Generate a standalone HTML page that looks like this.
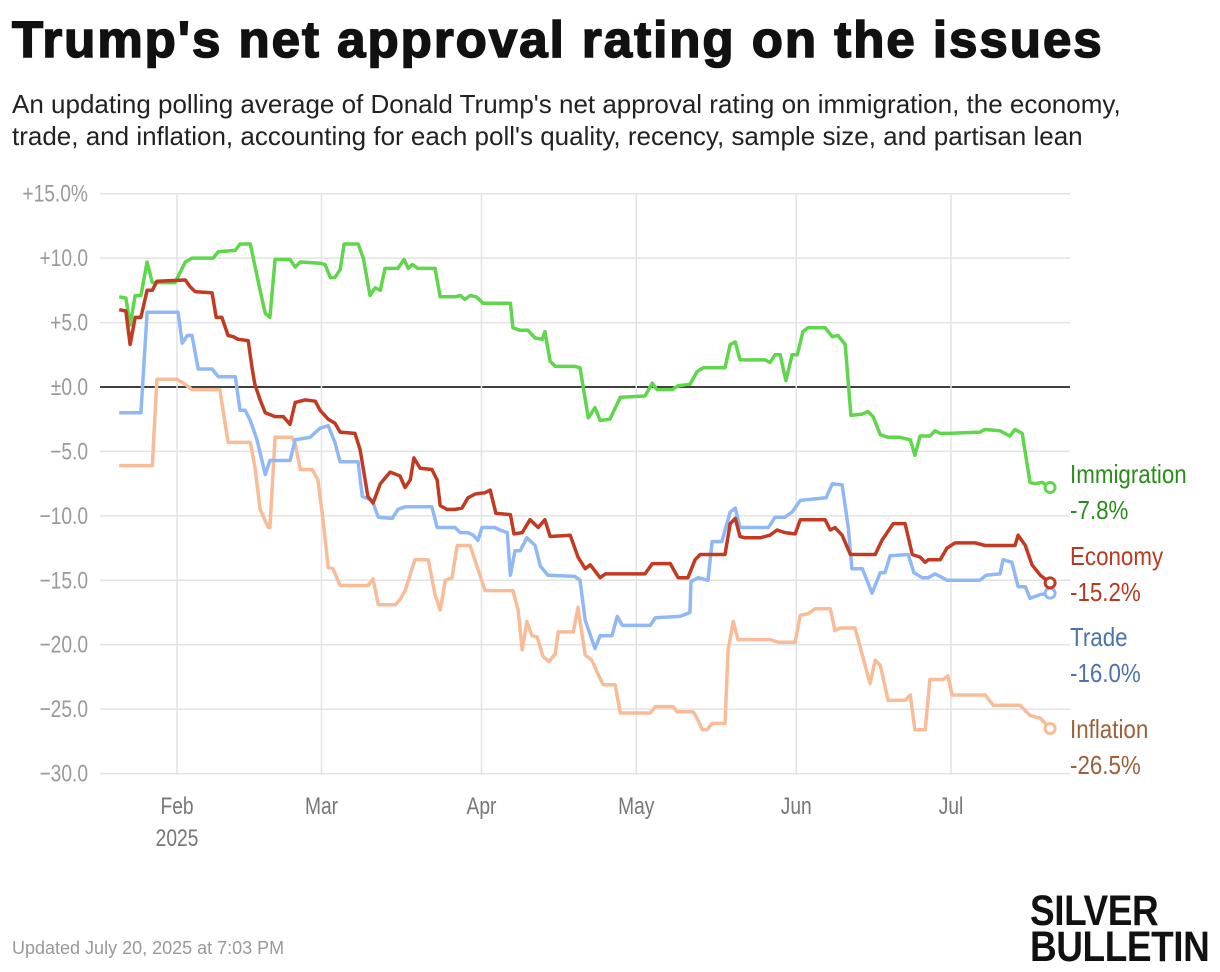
<!DOCTYPE html>
<html><head><meta charset="utf-8">
<style>
body{margin:0;width:1220px;height:972px;background:#fff;overflow:hidden;font-family:"Liberation Sans",sans-serif;}
#title{position:absolute;left:12px;top:10px;font-size:51px;font-weight:900;color:#111;letter-spacing:2px;margin:0;-webkit-text-stroke:1.6px #111;white-space:nowrap;}
#sub{position:absolute;left:12px;top:88px;font-size:26px;line-height:32px;color:#222;width:1170px;}
#foot{position:absolute;left:12px;top:938px;font-size:18px;color:#999;}
#logo{position:absolute;left:1030px;top:893px;font-weight:bold;font-size:43px;line-height:36px;color:#111;text-align:left;transform:scaleX(0.86);transform-origin:0 0;letter-spacing:-0.5px;white-space:nowrap;}
svg{position:absolute;left:0;top:0;}
</style></head><body>
<h1 id="title">Trump's net approval rating on the issues</h1>
<div id="sub">An updating polling average of Donald Trump's net approval rating on immigration, the economy, trade, and inflation, accounting for each poll's quality, recency, sample size, and partisan lean</div>
<svg id="chart" width="1220" height="972"></svg>
<div id="foot">Updated July 20, 2025 at 7:03 PM</div>
<div id="logo">SILVER<br>BULLETIN</div>
<script>
const yTicks=[15,10,5,0,-5,-10,-15,-20,-25,-30];
const yTickLabels=["+15.0%","+10.0","+5.0","±0.0","−5.0","−10.0","−15.0","−20.0","−25.0","−30.0"];
const monthDays=[12,40,71,101,132,162];
const monthLabels=["Feb","Mar","Apr","May","Jun","Jul"];
const seriesNames=["Immigration","Economy","Trade","Inflation"];
const finalValues=["-7.8%","-15.2%","-16.0%","-26.5%"];
const immigration=[[0.8,7.0],[2.1,6.9],[2.9,4.8],[3.9,7.1],[5.0,7.1],[6.2,9.7],[7.2,8.1],[11.6,8.1],[13.6,9.7],[14.9,10.0],[19.0,10.0],[20.0,10.5],[23.3,10.6],[24.2,11.1],[26.2,11.1],[28.1,7.5],[29.1,5.7],[30.0,5.4],[31.0,9.9],[33.9,9.9],[34.9,9.3],[35.9,9.7],[39.7,9.6],[40.7,9.5],[41.7,8.5],[42.6,8.5],[43.6,9.1],[44.4,11.1],[47.1,11.1],[48.1,10.0],[49.4,7.1],[50.4,7.7],[51.4,7.5],[52.3,9.2],[54.8,9.2],[56.0,9.9],[56.8,9.2],[57.6,9.5],[58.7,9.2],[62.0,9.2],[63.0,7.0],[65.9,7.0],[66.9,7.1],[67.8,6.8],[68.8,7.1],[70.0,7.0],[71.3,6.5],[76.6,6.5],[77.1,4.6],[78.5,4.4],[80.0,4.4],[81.4,3.8],[82.8,3.7],[83.3,4.3],[84.3,2.0],[85.3,1.6],[89.1,1.6],[90.1,1.5],[91.7,-2.4],[93.0,-1.6],[94.0,-2.6],[95.9,-2.5],[97.9,-0.8],[102.7,-0.7],[104.1,0.3],[105.0,-0.2],[108.0,-0.2],[109.1,0.1],[111.4,0.2],[112.8,1.2],[114.0,1.5],[118.2,1.5],[119.2,3.3],[120.2,3.5],[121.1,2.1],[126.0,2.1],[126.9,1.9],[127.9,2.5],[128.9,2.5],[130.0,0.5],[131.2,2.5],[132.2,2.5],[133.3,4.3],[134.3,4.6],[137.6,4.6],[139.0,3.9],[140.1,4.0],[141.5,3.3],[142.6,-2.2],[144.8,-2.1],[145.9,-1.9],[146.9,-2.3],[148.3,-3.7],[149.8,-3.9],[152.1,-3.9],[154.1,-4.1],[155.0,-5.3],[156.0,-3.8],[157.9,-3.8],[158.9,-3.4],[159.9,-3.6],[161.4,-3.6],[167.6,-3.5],[168.6,-3.3],[171.5,-3.4],[173.4,-3.8],[174.4,-3.3],[175.8,-3.6],[177.3,-7.4],[178.3,-7.5],[179.7,-7.4],[181.2,-7.8]];
const economy=[[0.8,6.0],[2.1,5.9],[2.9,3.3],[3.9,5.4],[5.0,5.4],[6.2,7.5],[7.2,7.5],[8.1,8.2],[13.6,8.3],[14.5,7.8],[15.5,7.4],[18.8,7.3],[19.6,5.4],[20.7,5.4],[21.9,4.0],[22.9,3.9],[23.8,3.7],[25.8,3.6],[26.6,1.3],[27.1,0.2],[28.1,-1.0],[29.1,-2.0],[31.0,-2.3],[32.6,-2.3],[33.9,-2.9],[34.9,-1.2],[36.8,-1.0],[38.8,-1.1],[39.7,-1.8],[41.3,-2.5],[42.6,-2.8],[43.6,-3.5],[46.5,-3.6],[47.5,-4.9],[49.0,-8.5],[50.0,-9.0],[51.4,-7.5],[53.3,-6.6],[55.2,-6.9],[56.2,-7.8],[57.2,-7.2],[57.9,-5.5],[59.1,-6.3],[61.4,-6.4],[62.4,-7.2],[63.0,-9.2],[64.3,-9.5],[65.9,-9.5],[67.2,-9.4],[68.4,-8.6],[69.8,-8.3],[71.7,-8.2],[72.7,-8.0],[73.8,-9.8],[76.6,-9.9],[77.3,-11.4],[78.9,-11.3],[80.4,-10.3],[82.0,-10.9],[83.3,-10.3],[84.3,-11.6],[88.2,-11.5],[89.7,-13.2],[91.1,-14.1],[92.1,-13.8],[94.0,-14.8],[95.0,-14.5],[102.7,-14.5],[104.1,-13.7],[107.6,-13.7],[109.1,-14.8],[111.0,-14.8],[112.4,-13.4],[113.4,-13.0],[118.2,-13.0],[119.2,-10.6],[120.2,-10.2],[121.1,-11.6],[122.1,-11.7],[125.0,-11.7],[126.9,-11.5],[128.3,-11.1],[129.8,-11.3],[131.8,-11.4],[132.8,-10.3],[137.6,-10.3],[138.6,-11.1],[139.5,-10.9],[140.9,-11.5],[142.5,-13.0],[147.3,-13.0],[148.6,-11.9],[150.8,-10.6],[153.1,-10.6],[154.5,-13.0],[156.0,-13.2],[157.0,-13.6],[157.6,-13.4],[159.9,-13.4],[161.2,-12.5],[162.8,-12.1],[166.7,-12.1],[168.6,-12.3],[174.4,-12.3],[175.0,-11.5],[176.4,-12.3],[177.7,-13.8],[179.3,-14.6],[181.2,-15.2]];
const trade=[[0.8,-2.0],[5.0,-2.0],[6.2,5.8],[12.2,5.8],[13.0,3.4],[14.0,4.0],[14.9,4.0],[16.1,1.4],[18.8,1.4],[20.0,0.8],[23.3,0.8],[24.2,-1.8],[25.2,-1.8],[26.2,-2.6],[27.5,-4.1],[29.1,-6.8],[30.0,-5.7],[33.9,-5.7],[34.9,-4.1],[37.8,-3.9],[39.7,-3.2],[41.3,-3.0],[42.6,-4.3],[43.6,-5.8],[47.1,-5.8],[47.9,-8.5],[49.8,-8.8],[51.0,-10.1],[53.7,-10.2],[54.8,-9.5],[56.2,-9.3],[61.4,-9.3],[62.4,-10.9],[65.9,-10.9],[66.9,-11.3],[68.4,-11.3],[69.4,-11.5],[70.3,-11.9],[71.1,-10.9],[73.6,-10.9],[74.6,-11.1],[76.0,-11.3],[76.6,-14.6],[77.5,-12.7],[78.5,-12.7],[79.8,-11.7],[81.4,-12.3],[82.4,-13.9],[83.9,-14.6],[89.1,-14.7],[90.1,-15.0],[91.1,-18.1],[93.0,-20.3],[94.0,-19.3],[96.3,-19.3],[97.3,-17.8],[98.3,-18.5],[103.7,-18.5],[104.7,-17.9],[109.5,-17.8],[111.4,-17.5],[111.6,-15.1],[113.0,-14.8],[114.9,-15.0],[115.7,-12.0],[117.6,-12.0],[119.2,-9.7],[120.2,-9.4],[121.1,-10.9],[126.6,-10.9],[127.9,-10.1],[129.8,-10.1],[131.2,-9.7],[132.8,-8.8],[137.8,-8.6],[139.0,-7.5],[140.9,-7.6],[142.1,-10.9],[142.8,-14.1],[144.8,-14.1],[146.7,-16.0],[148.3,-14.4],[149.2,-14.4],[150.2,-13.1],[153.7,-13.0],[154.8,-14.4],[156.4,-14.8],[157.6,-14.8],[158.9,-14.5],[159.9,-14.7],[161.2,-15.0],[167.6,-15.0],[168.8,-14.6],[171.5,-14.5],[172.1,-13.4],[173.8,-13.6],[175.0,-15.5],[176.4,-15.5],[177.3,-16.4],[179.3,-16.1],[181.2,-16.0]];
const inflation=[[0.8,-6.1],[7.2,-6.1],[8.1,0.6],[12.0,0.6],[13.6,0.2],[14.9,-0.2],[20.3,-0.2],[21.9,-4.3],[26.2,-4.3],[27.1,-6.2],[28.1,-9.5],[29.7,-10.9],[30.0,-10.9],[31.0,-3.9],[34.3,-3.9],[34.9,-4.4],[35.9,-6.4],[38.2,-6.4],[39.3,-7.2],[40.3,-10.3],[41.3,-14.0],[42.2,-14.1],[43.6,-15.4],[49.0,-15.4],[50.0,-14.9],[51.0,-16.9],[54.3,-16.9],[55.2,-16.5],[56.2,-15.8],[58.1,-13.4],[60.7,-13.4],[62.0,-16.1],[63.0,-17.3],[64.0,-15.0],[65.3,-14.8],[66.3,-12.3],[68.8,-12.3],[70.7,-14.6],[71.7,-15.8],[77.1,-15.8],[78.1,-17.3],[78.9,-20.4],[79.8,-18.2],[80.8,-19.3],[81.8,-19.4],[82.9,-20.9],[84.1,-21.3],[85.3,-20.7],[85.9,-19.0],[88.8,-19.0],[89.7,-17.1],[91.1,-20.8],[92.4,-21.2],[93.4,-22.1],[94.6,-23.1],[96.9,-23.1],[97.9,-25.3],[103.7,-25.3],[104.7,-24.8],[108.1,-24.8],[108.9,-25.2],[112.0,-25.2],[112.8,-25.7],[113.8,-26.6],[114.7,-26.6],[115.7,-26.1],[118.2,-26.1],[118.8,-20.4],[119.8,-18.2],[120.7,-19.6],[126.9,-19.6],[128.5,-19.8],[131.8,-19.8],[132.8,-17.7],[134.3,-17.6],[135.7,-17.2],[138.6,-17.2],[139.5,-18.9],[140.5,-18.7],[143.4,-18.7],[144.8,-20.8],[146.3,-23.0],[147.3,-21.2],[148.3,-21.6],[149.8,-24.3],[153.1,-24.3],[154.1,-23.9],[155.0,-26.6],[157.0,-26.6],[157.9,-22.7],[160.5,-22.7],[161.4,-22.4],[162.2,-23.9],[168.6,-23.9],[170.2,-24.7],[175.4,-24.7],[177.3,-25.5],[179.3,-25.7],[181.2,-26.5]];

const NS="http://www.w3.org/2000/svg";
const svg=document.getElementById('chart');
const X=d=>115.1+d*5.16;
const Y=v=>387-v*12.887;
function mk(tag,attrs,parent){const e=document.createElementNS(NS,tag);for(const k in attrs)e.setAttribute(k,attrs[k]);(parent||svg).appendChild(e);return e;}
function ctext(x,y,anchor,size,fill,str,sx){
  const t=mk('text',{transform:'translate('+x+','+y+') scale('+(sx||0.8)+',1)','text-anchor':anchor,'font-size':size,fill:fill});
  t.textContent=str;return t;
}
yTicks.forEach((v,i)=>{
  const g=mk('line',{x1:100,x2:1070,y1:Y(v),y2:Y(v),stroke:v===0?'#000':'#e3e3e3','stroke-width':v===0?1.6:1.5});
  
  
  const t=ctext(88,Y(v)+8,'end',24,'#9a9a9a',yTickLabels[i]);
  
  
});
monthDays.forEach((d,i)=>{
  const g=mk('line',{x1:X(d),x2:X(d),y1:195,y2:775,stroke:'#e3e3e3','stroke-width':1.5});
  
  
  const t=ctext(X(d),814,'middle',24,'#777',monthLabels[i]);
  
  
});
const yr=ctext(X(monthDays[0]),846,'middle',24,'#777','2025');


const series=[immigration,economy,trade,inflation];
const colors=['#5fd64b','#c23a22','#90b8f4','#f8bc98'];
const labelColors=['#2a8c1c','#b8391f','#4c74aa','#9b613d'];
const labelY=[483,565,646,738];
const order=[3,2,0,1];
order.forEach(i=>{
  const pts=series[i].map(p=>X(p[0]).toFixed(1)+','+Y(p[1]).toFixed(1)).join(' ');
  const pl=mk('polyline',{points:pts,fill:'none',stroke:colors[i],'stroke-width':3.5,'stroke-linejoin':'round'});
  
  
  const last=series[i][series[i].length-1];
  const c=mk('circle',{cx:X(last[0]),cy:Y(last[1]),r:5,fill:'#fff',stroke:colors[i],'stroke-width':3});
  
  
});
seriesNames.forEach((n,i)=>{
  const t=ctext(1070,labelY[i],'start',26,labelColors[i],n,0.86);
  
  
  const v=ctext(1070,labelY[i]+36,'start',26,labelColors[i],finalValues[i],0.86);
  
  
});
</script>
</body></html>
